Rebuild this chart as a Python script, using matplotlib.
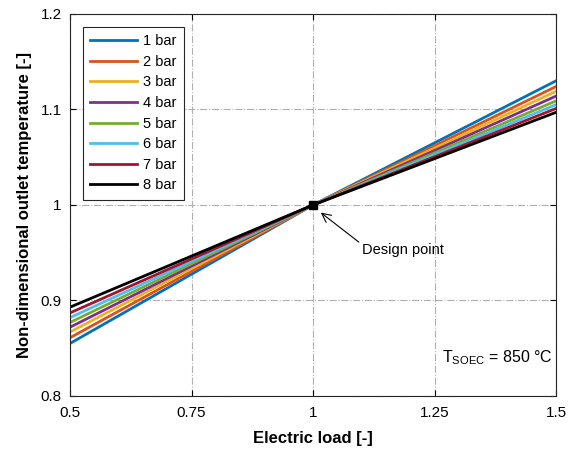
import matplotlib
matplotlib.use('Agg')
import matplotlib.pyplot as plt

plt.rcParams['font.family'] = ['Liberation Sans', 'DejaVu Sans']

load = [0.5, 1.0, 1.5]
pressures = ['1 bar', '2 bar', '3 bar', '4 bar', '5 bar', '6 bar', '7 bar', '8 bar']
temp_low = [0.855, 0.861, 0.867, 0.872, 0.877, 0.882, 0.887, 0.893]
temp_high = [1.130, 1.124, 1.119, 1.114, 1.109, 1.105, 1.101, 1.097]
colors = ['#0072BD', '#D95319', '#EDB120', '#7E2F8E', '#77AC30', '#4DBEEE', '#A2142F', '#000000']

fig = plt.figure(figsize=(5.72, 4.5), dpi=100)
ax = fig.add_axes([0.1224, 0.12, 0.8497, 0.849])

for i, p in enumerate(pressures):
    ax.plot(load, [temp_low[i], 1.0, temp_high[i]], color=colors[i], lw=2, label=p)
ax.plot([1.0], [1.0], 's', color='black', ms=6)

ax.set_xlim(0.5, 1.5)
ax.set_ylim(0.8, 1.2)
ax.set_xticks([0.5, 0.75, 1, 1.25, 1.5])
ax.set_xticklabels(['0.5', '0.75', '1', '1.25', '1.5'])
ax.set_yticks([0.8, 0.9, 1.0, 1.1, 1.2])
ax.set_yticklabels(['0.8', '0.9', '1', '1.1', '1.2'])
ax.tick_params(axis='x', direction='in', labelsize=11, length=4, top=True, pad=7)
ax.tick_params(axis='y', direction='in', labelsize=11, length=4, right=True, pad=6)
ax.grid(True, ls='-.', color='#b0b0b0', lw=0.8)
for s in ax.spines.values():
    s.set_color('#262626')
    s.set_linewidth(0.8)

ax.set_xlabel('Electric load [-]', fontsize=12, fontweight='bold', labelpad=8)
ax.set_ylabel('Non-dimensional outlet temperature [-]', fontsize=12, fontweight='bold', labelpad=6)

ax.annotate('Design point', xy=(1.016, 0.992), xytext=(1.1, 0.953),
            fontsize=10.5, va='center', ha='left',
            arrowprops=dict(arrowstyle='->', color='black', lw=0.8, shrinkA=0, shrinkB=0,
                            relpos=(0, 0.9), mutation_scale=16))
ax.text(1.265, 0.84, r'T$_{\mathregular{SOEC}}$ = 850 °C', fontsize=11.5, va='center', ha='left')

leg = ax.legend(loc='upper left', fontsize=10.5, fancybox=False, edgecolor='#262626',
                framealpha=1, handlelength=3.2, labelspacing=0.45, borderpad=0.5,
                handletextpad=0.4, borderaxespad=0.9)
leg.get_frame().set_linewidth(0.8)

fig.savefig('out.png', dpi=100)
